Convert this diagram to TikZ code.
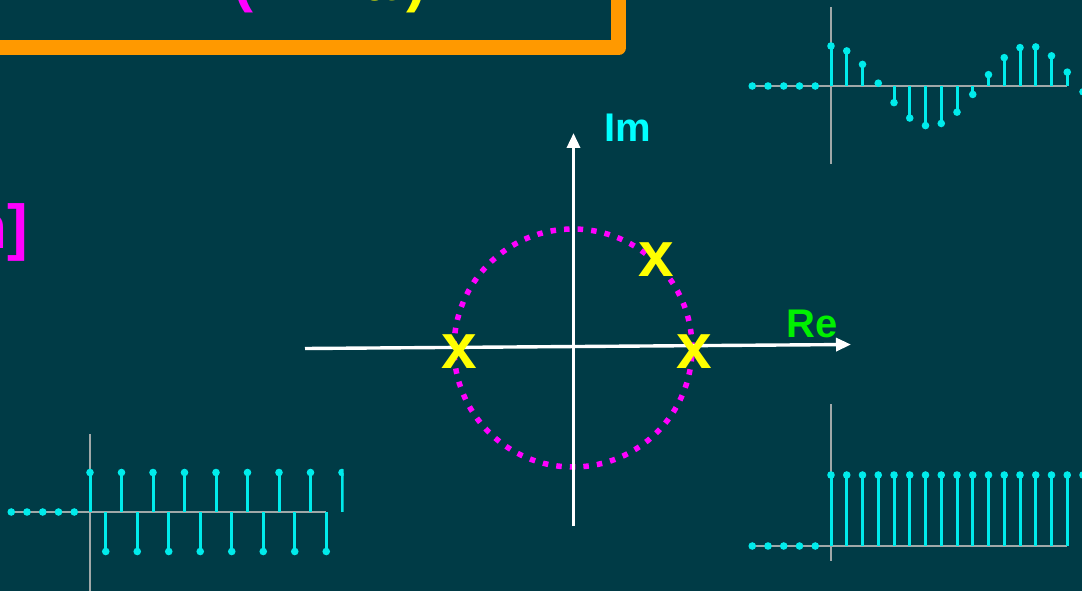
\documentclass[tikz,border=0pt]{standalone}
\usepackage{xcolor}
\usepackage{fontspec}
\setmainfont{Liberation Sans}
\usetikzlibrary{arrows.meta}

\definecolor{slidebg}{RGB}{0,59,70}
\definecolor{framecol}{RGB}{255,153,0}
\definecolor{stemcol}{RGB}{0,235,235}
\definecolor{axiscol}{RGB}{160,168,168}
\definecolor{imcol}{RGB}{0,255,255}
\definecolor{recol}{RGB}{0,240,0}
\definecolor{polecol}{RGB}{255,255,0}
\definecolor{ringcol}{RGB}{255,0,255}
\definecolor{zcol}{RGB}{112,48,160}

\newcommand{\bigfont}[1]{\fontsize{#1}{#1}\selectfont\bfseries}

\begin{document}
\begin{tikzpicture}[
  x=1pt, y=-1pt,
  axis/.style={draw=white, line width=3.4pt, -{Triangle[length=15pt, width=13pt]}},
  seqaxis/.style={draw=axiscol, line width=1.6pt},
  stem/.style={draw=stemcol, line width=3pt},
  pole/.style={text=polecol, font=\bigfont{64}, inner sep=0pt},
  ring/.style={draw=ringcol, line width=5.5pt, dash pattern=on 5.5pt off 8.1pt},
  axislabel/.style={font=\bigfont{40}, inner sep=0pt, anchor=base west}
]

\fill[slidebg] (0,0) rectangle (1082,591);
\useasboundingbox (0,0) rectangle (1082,591);
\clip (0,0) rectangle (1082,591);

\draw[framecol, line width=15pt, line join=round] (-30,-30) rectangle (618.5,48);

\node[anchor=base west, inner sep=0pt, font=\bigfont{60}] (denom) at (233,1)
  {\textcolor{ringcol}{(}\hspace{12pt}\textcolor{zcol}{z} \textcolor{zcol}{−} \textcolor{polecol}{a}\hspace{10pt}\textcolor{polecol}{)}};
\node[anchor=base east, inner sep=0pt, font=\bigfont{62}, text=ringcol] (seq) at (28,248) {n]};

\coordinate (origin) at (573,348);
\coordinate (re start) at (305,348.5);
\coordinate (re end) at (851,344.5);
\coordinate (im start) at (573.5,526);
\coordinate (im end) at (573.5,133);

\draw[ring] (origin) circle (119pt);
\draw[axis] (re start) -- (re end);
\draw[axis] (im start) -- (im end);

\node[axislabel, text=imcol] (im) at (604,142) {Im};
\node[axislabel, text=recol] (re) at (786,337) {Re};

\node[pole] (p1) at (459,352) {x};
\node[pole] (p2) at (694,352) {x};
\node[pole] (p3) at (656,260) {x};

% cosine sequence
\draw[seqaxis] (831,7) -- (831,164);
\draw[seqaxis] (752,86) -- (1067,86);
\foreach \n in {-5,...,-1}
  \fill[stemcol] ({831+15.75*\n},86) circle (3.8pt);
\foreach \n in {0,...,16} {
  \draw[stem] ({831+15.75*\n},86) -- ({831+15.75*\n},{86-40*cos(28.648*\n)});
  \fill[stemcol] ({831+15.75*\n},{86-40*cos(28.648*\n)}) circle (3.8pt);
}

% alternating sequence
\draw[seqaxis] (90,434) -- (90,595);
\draw[seqaxis] (11,512) -- (326,512);
\foreach \n in {-5,...,-1}
  \fill[stemcol] ({90+15.75*\n},512) circle (3.8pt);
\begin{scope}
  \clip (0,400) rectangle (343.5,591);
  \foreach \n in {0,...,16} {
    \draw[stem] ({90+15.75*\n},512) -- ({90+15.75*\n},{512-39.5*cos(180*\n)});
    \fill[stemcol] ({90+15.75*\n},{512-39.5*cos(180*\n)}) circle (3.8pt);
  }
\end{scope}

% unit step
\draw[seqaxis] (831,404) -- (831,561);
\draw[seqaxis] (752,546) -- (1067,546);
\foreach \n in {-5,...,-1}
  \fill[stemcol] ({831+15.75*\n},546) circle (3.8pt);
\foreach \n in {0,...,16} {
  \draw[stem] ({831+15.75*\n},546) -- ({831+15.75*\n},475);
  \fill[stemcol] ({831+15.75*\n},475) circle (3.8pt);
}

\end{tikzpicture}
\end{document}
